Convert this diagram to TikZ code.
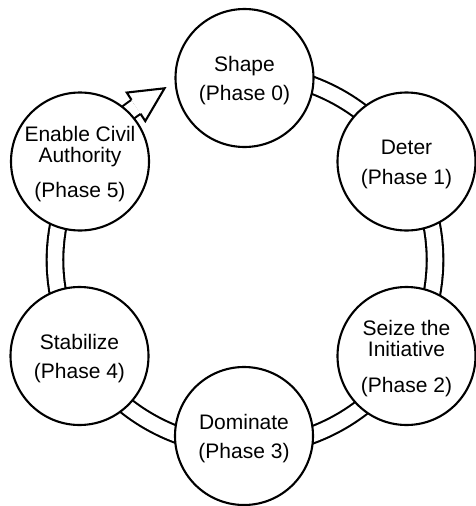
\documentclass[tikz,border=0pt]{standalone}
\usepackage{fontspec}
\setmainfont{Liberation Sans}
\begin{document}
\begin{tikzpicture}[x=1pt,y=1pt,
  phase/.style={circle, draw, line width=2.1pt, fill=white, minimum size=138pt,
    inner sep=0pt, outer sep=0pt, align=center, font=\fontsize{21}{29.5}\selectfont},
  band/.style={draw, line width=2.1pt, double=white, double distance=14.5pt},
  head/.style={draw, line width=2.1pt, fill=white, line join=miter}]
\useasboundingbox (0,0) rectangle (476,-506);
\coordinate (ring) at (245,-260);
\path (ring) ++(125:190pt and 187pt) coordinate (abase);
% cycle band
\draw[band] (abase) arc[start angle=125, end angle=450, x radius=190pt, y radius=187pt];
% phases
\node[phase] (p0) at (244.5,-78) {\rule{0pt}{20pt}Shape\\(Phase 0)};
\node[phase] (p1) at (406.5,-161.5) {\rule{0pt}{20pt}Deter\\(Phase 1)};
\node[phase] (p2) at (406.5,-356) {\rule{0pt}{20pt}Seize the\\[-8.5pt]Initiative\\[6pt](Phase 2)};
\node[phase] (p3) at (244,-436) {\rule{0pt}{20pt}Dominate\\(Phase 3)};
\node[phase] (p4) at (79.5,-356) {\rule{0pt}{20pt}Stabilize\\(Phase 4)};
\node[phase] (p5) at (80,-161.5) {\rule{0pt}{20pt}Enable Civil\\[-8.5pt]Authority\\[6pt](Phase 5)};
% hollow arrow head
\begin{scope}[shift={(abase)}, rotate=33]
\draw[head] (0,8.3) -- (0,17) -- (34,0) -- (0,-17) -- (0,-8.3);
\end{scope}
\end{tikzpicture}
\end{document}
